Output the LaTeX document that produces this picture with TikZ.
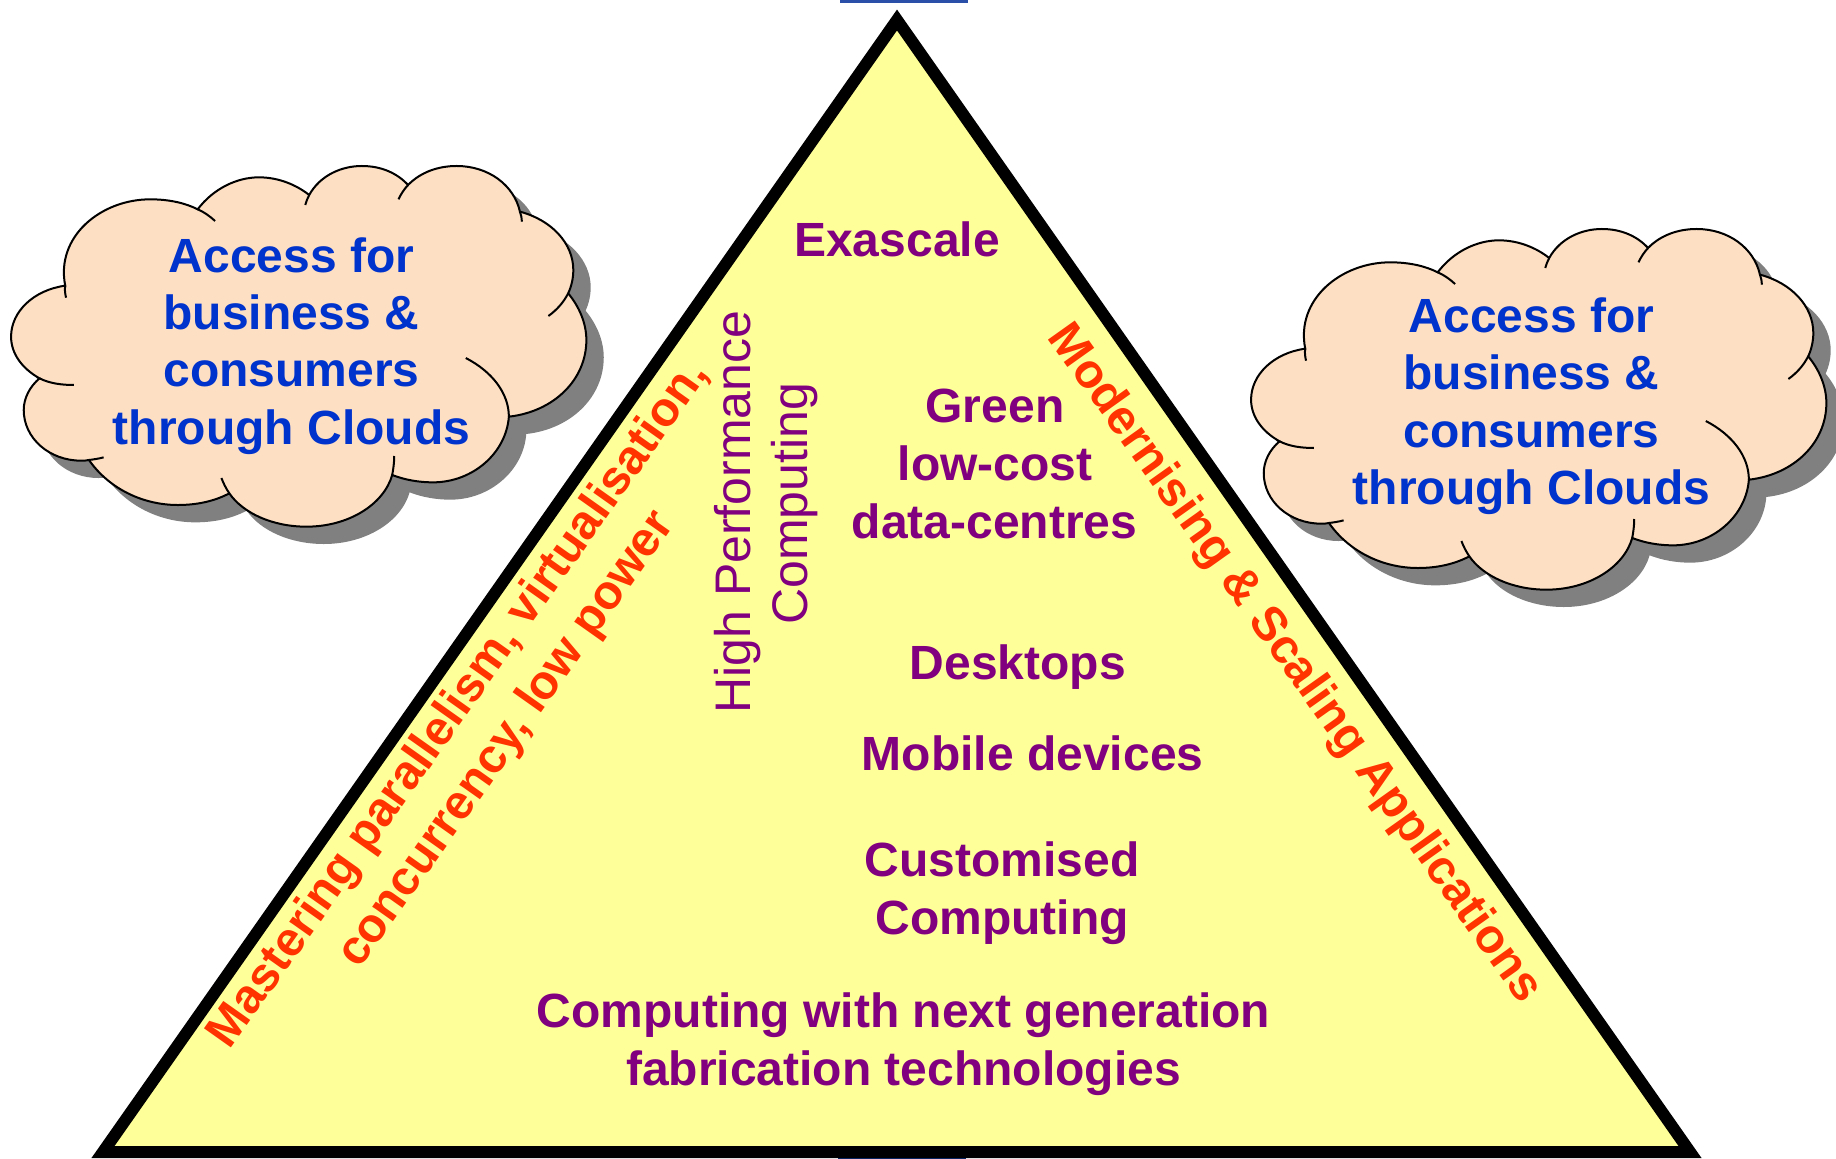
\documentclass[tikz,border=0pt]{standalone}
\usepackage{fontspec}
\setmainfont{Liberation Sans}
\definecolor{cloudfill}{HTML}{FDDFC3}
\definecolor{cloudshadow}{HTML}{808080}
\definecolor{accessblue}{HTML}{0033CC}
\definecolor{levelpurple}{HTML}{800080}
\definecolor{challengered}{HTML}{FF3300}
\definecolor{pyramidfill}{HTML}{FFFF99}
\definecolor{barblue}{HTML}{2A4FA8}
\definecolor{bardark}{HTML}{0A2A70}
\newcommand{\cloudoutline}{(165,437) .. controls (140,290) and (255,178) .. (380,178) .. controls (430,178) and (470,190) .. (500,208)
 .. controls (540,145) and (600,112) .. (655,112) .. controls (705,112) and (750,135) .. (782,165)
 .. controls (810,105) and (865,78) .. (915,78) .. controls (965,78) and (1005,100) .. (1032,135)
 .. controls (1065,95) and (1110,78) .. (1155,78) .. controls (1235,78) and (1300,135) .. (1315,215)
 .. controls (1395,240) and (1450,310) .. (1450,390) .. controls (1450,415) and (1445,440) .. (1437,460)
 .. controls (1465,500) and (1483,550) .. (1483,600) .. controls (1483,720) and (1400,815) .. (1287,830)
 .. controls (1280,940) and (1195,1027) .. (1095,1027) .. controls (1060,1027) and (1025,1020) .. (992,1005)
 .. controls (970,1095) and (880,1160) .. (775,1160) .. controls (690,1160) and (615,1120) .. (580,1060)
 .. controls (540,1085) and (495,1095) .. (450,1095) .. controls (360,1095) and (275,1045) .. (225,960)
 .. controls (218,962) and (212,962) .. (205,962) .. controls (125,962) and (60,895) .. (60,810) .. controls (60,775) and (75,740) .. (100,715)
 .. controls (55,685) and (28,640) .. (28,590) .. controls (28,515) and (85,450) .. (165,437) -- cycle}
\newcommand{\cloudstubs}{(165,437) .. controls (163,450) and (165,462) .. (167,473)
 (500,208) .. controls (516,216) and (530,228) .. (544,243)
 (782,165) .. controls (778,175) and (774,185) .. (772,195)
 (1032,135) .. controls (1022,148) and (1014,162) .. (1008,178)
 (1315,215) .. controls (1318,225) and (1320,235) .. (1320,245)
 (1437,460) .. controls (1425,488) and (1408,510) .. (1387,528)
 (1287,830) .. controls (1287,760) and (1245,695) .. (1178,654)
 (992,1005) .. controls (995,985) and (997,968) .. (997,948)
 (580,1060) .. controls (572,1046) and (565,1030) .. (560,1014)
 (225,960) .. controls (238,958) and (250,956) .. (262,952)
 (100,715) .. controls (125,730) and (155,735) .. (187,735)}
\tikzset{
 cloudline/.style={draw=black,line width=1pt},
 cloudtext/.style={text=accessblue,font=\fontsize{24}{28}\selectfont\bfseries,inner sep=0pt,anchor=base},
 leveltext/.style={text=levelpurple,font=\fontsize{24}{28}\selectfont\bfseries,inner sep=0pt,anchor=base},
 hpctext/.style={text=levelpurple,font=\fontsize{25}{29}\selectfont,inner sep=0pt,rotate=90,anchor=base},
 edgetext/.style={text=challengered,font=\fontsize{24}{28}\selectfont\bfseries,inner sep=0pt},
}
\begin{document}
\begin{tikzpicture}[x=0.5pt,y=-0.5pt]
\useasboundingbox (0,0) rectangle (1836,1159);
\fill[barblue] (840,0) rectangle (968,3);
\fill[bardark] (838,1157) rectangle (966,1159);
\draw[fill=pyramidfill,line width=6pt,line join=miter,miter limit=10] (897,20) -- (1690,1152) -- (103,1152) -- cycle;
% left cloud
\begin{scope}[shift={(0,140)},x=0.1977pt,y=-0.16667pt]
 \fill[cloudshadow,shift={(44,52)}] \cloudoutline;
 \fill[cloudfill] \cloudoutline;
 \draw[cloudline] \cloudoutline;
 \draw[cloudline] \cloudstubs;
\end{scope}
% right cloud
\begin{scope}[shift={(1240,203)},x=0.1977pt,y=-0.16667pt]
 \fill[cloudshadow,shift={(44,52)}] \cloudoutline;
 \fill[cloudfill] \cloudoutline;
 \draw[cloudline] \cloudoutline;
 \draw[cloudline] \cloudstubs;
\end{scope}
\node[cloudtext] (la) at (291.5,272.7) {Access for};
\node[cloudtext] (lb) at (291.5,330) {business \&};
\node[cloudtext] (lc) at (291.5,387) {consumers};
\node[cloudtext] (ld) at (291.5,444.5) {through Clouds};
\node[cloudtext] (ra) at (1531.5,332.7) {Access for};
\node[cloudtext] (rb) at (1531.5,390) {business \&};
\node[cloudtext] (rc) at (1531.5,447.7) {consumers};
\node[cloudtext] (rd) at (1531.5,504.5) {through Clouds};
\node[leveltext] (exa) at (897,257) {Exascale};
\node[leveltext] (g1) at (995,422.7) {Green};
\node[leveltext] (g2) at (995,481) {low-cost};
\node[leveltext] (g3) at (994.5,538.7) {data-centres};
\node[leveltext] (desk) at (1017.8,680) {Desktops};
\node[leveltext] (mob) at (1032.7,770.5) {Mobile devices};
\node[leveltext] (cu1) at (1002,876.5) {Customised};
\node[leveltext] (cu2) at (1002,934.5) {Computing};
\node[leveltext] (fa1) at (903.5,1027.7) {Computing with next generation};
\node[leveltext] (fa2) at (903.5,1085) {fabrication technologies};
\node[hpctext] (hp1) at (750,512) {High Performance};
\node[hpctext] (hp2) at (807.7,504) {Computing};
\node[edgetext,rotate=54.7] (m1) at (459.5,705) {Mastering parallelism, virtualisation,};
\node[edgetext,rotate=54.7] (m2) at (507,740) {concurrency, low power};
\node[edgetext,rotate=-54.6] (s1) at (1294,664) {Modernising \& Scaling Applications};
\end{tikzpicture}
\end{document}
